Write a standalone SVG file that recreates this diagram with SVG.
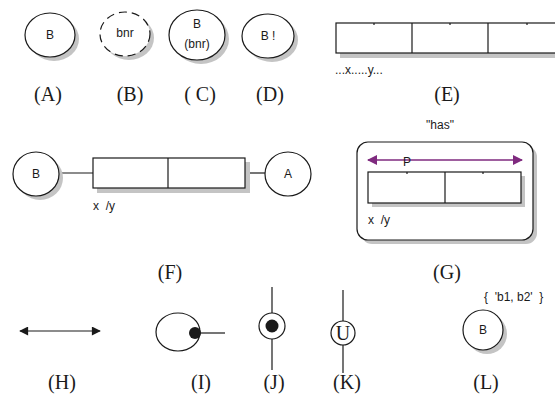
<svg xmlns="http://www.w3.org/2000/svg" width="555" height="405" viewBox="0 0 555 405">
<style>
.ln{fill:none;stroke:#1a1a1a;stroke-width:1.2}
.nd{fill:#fff;stroke:#1a1a1a;stroke-width:1.2}
.sh{fill:#c4c4c4;stroke:none}
.t{font-family:"Liberation Sans",Arial,sans-serif;font-size:12px;fill:#1a1a1a;white-space:pre}
.lb{font-family:"Liberation Serif","Times New Roman",serif;font-size:20px;fill:#1a1a1a;text-anchor:middle;white-space:pre}
.c{text-anchor:middle}
</style>
<defs>
<marker id="pa" viewBox="0 0 10 10" refX="9" refY="5" markerWidth="10" markerHeight="10" markerUnits="userSpaceOnUse" orient="auto-start-reverse"><path d="M0,0 L10,5 L0,10 z" fill="#7f2a7f"/></marker>
<marker id="ba" viewBox="0 0 10 10" refX="9" refY="5" markerWidth="11" markerHeight="9" markerUnits="userSpaceOnUse" orient="auto-start-reverse"><path d="M0,0 L10,5 L0,10 z" fill="#1a1a1a"/></marker>
</defs>

<g id="nodeA">
<ellipse class="sh" cx="54" cy="39" rx="25" ry="22"/>
<ellipse class="nd" cx="50" cy="35" rx="25" ry="22"/>
<text class="t c" x="50" y="39">B</text>
</g>
<g id="nodeB">
<ellipse class="sh" cx="129" cy="38" rx="25" ry="22"/>
<ellipse class="nd" cx="125" cy="34" rx="25" ry="22" stroke-dasharray="8,5"/>
<text class="t c" x="125" y="37">bnr</text>
</g>
<g id="nodeC">
<ellipse class="sh" cx="201" cy="39" rx="28" ry="25"/>
<ellipse class="nd" cx="197" cy="35" rx="28" ry="25"/>
<text class="t c" x="197" y="28">B</text>
<text class="t c" x="197" y="48">(bnr)</text>
</g>
<g id="nodeD">
<ellipse class="sh" cx="272" cy="40" rx="26" ry="22"/>
<ellipse class="nd" cx="268" cy="36" rx="26" ry="22"/>
<text class="t c" x="268" y="40">B !</text>
</g>
<g id="nodeE">
<rect class="sh" x="340" y="27" width="220" height="31"/>
<rect class="nd" x="336" y="23" width="230" height="30"/>
<line class="ln" x1="412" y1="23" x2="412" y2="53"/>
<line class="ln" x1="488" y1="23" x2="488" y2="53"/>
<line class="ln" x1="374" y1="23" x2="374" y2="25"/>
<line class="ln" x1="450" y1="23" x2="450" y2="25"/>
<line class="ln" x1="527" y1="23" x2="527" y2="25"/>
<text class="t" x="335" y="74" font-size="11">...x.....y...</text>
</g>

<g id="labels1">
<text class="lb" x="48" y="101">(A)</text>
<text class="lb" x="130" y="101">(B)</text>
<text class="lb" x="200" y="101">( C)</text>
<text class="lb" x="270" y="101">(D)</text>
<text class="lb" x="447" y="101">(E)</text>
</g>

<g id="connectors">
<line class="ln" x1="60" y1="173" x2="93" y2="173"/>
<line class="ln" x1="245" y1="173" x2="265" y2="173"/>
<line x1="20" y1="331" x2="100" y2="331" stroke="#1a1a1a" stroke-width="1.2" marker-start="url(#ba)" marker-end="url(#ba)"/>
<line class="ln" x1="195" y1="333" x2="225" y2="333"/>
<line class="ln" x1="272" y1="287" x2="272" y2="313"/>
<line class="ln" x1="272" y1="339" x2="272" y2="370"/>
<line class="ln" x1="343" y1="290" x2="343" y2="373"/>
</g>

<g id="nodeF-B">
<ellipse class="sh" cx="40" cy="178" rx="23" ry="22"/>
<ellipse class="nd" cx="36" cy="174" rx="23" ry="22"/>
<text class="t c" x="36" y="178">B</text>
</g>
<g id="nodeF-box">
<rect class="sh" x="97" y="162" width="153" height="31"/>
<rect class="nd" x="93" y="158" width="152" height="30"/>
<line class="ln" x1="168" y1="158" x2="168" y2="188"/>
<text class="t" x="93" y="210">x  /y</text>
</g>
<g id="nodeF-A">
<ellipse class="nd" cx="288" cy="174" rx="23" ry="22"/>
<text class="t c" x="288" y="178" font-size="11">A</text>
</g>

<g id="nodeG">
<text class="t c" x="440" y="129" font-size="11">"has"</text>
<rect class="sh" x="361" y="146" width="176" height="98" rx="11"/>
<rect class="nd" x="357" y="142" width="176" height="98" rx="11"/>
<line x1="368" y1="160" x2="522" y2="160" stroke="#7f2a7f" stroke-width="1.4" marker-start="url(#pa)" marker-end="url(#pa)"/>
<text class="t c" x="407" y="166" font-size="13">P</text>
<rect class="sh" x="372" y="176" width="153" height="31"/>
<rect class="nd" x="368" y="172" width="153" height="31"/>
<line class="ln" x1="445" y1="172" x2="445" y2="203"/>
<line class="ln" x1="407" y1="172" x2="407" y2="174"/>
<line class="ln" x1="483" y1="172" x2="483" y2="174"/>
<text class="t" x="368" y="224">x  /y</text>
</g>

<g id="labels2">
<text class="lb" x="170" y="279">(F)</text>
<text class="lb" x="447" y="279">(G)</text>
</g>

<g id="nodeI">
<ellipse class="nd" cx="178" cy="332" rx="22" ry="19"/>
<circle cx="195" cy="333" r="6" fill="#1a1a1a"/>
</g>
<g id="nodeJ">
<circle class="nd" cx="272" cy="326" r="13"/>
<circle cx="272" cy="326" r="6.5" fill="#1a1a1a"/>
</g>
<g id="nodeK">
<circle class="nd" cx="343" cy="333" r="12"/>
<text x="343" y="340" font-family="Liberation Serif,serif" font-size="20" text-anchor="middle" fill="#1a1a1a">U</text>
</g>
<g id="nodeL">
<text class="t" x="484" y="301">{  'b1, b2'  }</text>
<circle class="sh" cx="487" cy="334" r="20"/>
<circle class="nd" cx="483" cy="330" r="20"/>
<text class="t c" x="483" y="334" font-size="11">B</text>
</g>

<g id="labels3">
<text class="lb" x="62" y="389">(H)</text>
<text class="lb" x="201" y="389">(I)</text>
<text class="lb" x="274" y="389">(J)</text>
<text class="lb" x="347" y="389">(K)</text>
<text class="lb" x="486" y="389">(L)</text>
</g>
</svg>
